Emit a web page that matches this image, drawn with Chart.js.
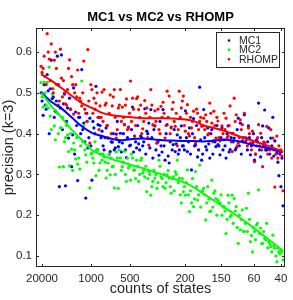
<!DOCTYPE html>
<html><head><meta charset="utf-8">
<script src="https://cdn.jsdelivr.net/npm/chart.js@4/dist/chart.umd.min.js"></script>
<style>html,body{margin:0;padding:0;background:#fff}canvas{display:block}</style>
</head><body>
<canvas id="c" width="293" height="300"></canvas>
<script>
// state rank positions (sorted by decreasing count of states)
const stateIdx = Array.from({length:120},(_, k)=>k+1);
const stateIdxB = Array.from({length:119},(_, k)=>k+1.5);
const mc1 = [
0.50,0.445,0.47,0.545,0.40,0.58,0.49,0.455,0.59,0.27,
0.593,0.473,0.272,0.463,0.487,0.319,0.512,0.453,0.285,0.44,
0.557,0.426,0.242,0.365,0.438,0.286,0.414,0.516,0.422,0.42,
0.406,0.36,0.414,0.389,0.356,0.379,0.36,0.399,0.368,0.401,
0.377,0.422,0.341,0.416,0.372,0.465,0.394,0.365,0.375,0.394,
0.37,0.461,0.406,0.426,0.459,0.34,0.419,0.377,0.347,0.37,
0.459,0.335,0.422,0.328,0.416,0.373,0.356,0.397,0.36,0.419,
0.37,0.456,0.356,0.414,0.311,0.437,0.372,0.343,0.514,0.335,
0.459,0.368,0.414,0.34,0.41,0.382,0.368,0.373,0.348,0.414,
0.385,0.34,0.419,0.361,0.401,0.389,0.365,0.438,0.426,0.382,
0.446,0.389,0.419,0.348,0.377,0.335,0.385,0.475,0.343,0.419,
0.458,0.36,0.414,0.389,0.44,0.382,0.352,0.297,0.27,0.223];
const mc1B = [
0.48,0.52,0.46,0.505,0.51,0.486,0.44,0.48,0.52,0.463,
0.41,0.497,0.43,0.389,0.46,0.397,0.35,0.42,0.44,0.40,
0.41,0.38,0.45,0.39,0.37,0.43,0.40,0.36,0.44,0.39,
0.37,0.39,0.42,0.35,0.38,0.40,0.365,0.43,0.38,0.355,
0.40,0.36,0.39,0.37,0.41,0.355,0.38,0.42,0.36,0.39,
0.38,0.35,0.40,0.365,0.39,0.41,0.36,0.38,0.43,0.355,
0.37,0.40,0.345,0.38,0.36,0.41,0.375,0.35,0.39,0.37,
0.36,0.39,0.38,0.35,0.40,0.37,0.42,0.36,0.385,0.35,
0.39,0.36,0.375,0.40,0.35,0.38,0.42,0.37,0.39,0.36,
0.37,0.40,0.355,0.39,0.38,0.36,0.41,0.37,0.35,0.39,
0.38,0.36,0.39,0.37,0.40,0.35,0.38,0.36,0.39,0.37,
0.36,0.38,0.35,0.37,0.345,0.36,0.33,0.35,0.34];
const mc2 = [
0.525,0.465,0.50,0.526,0.563,0.41,0.51,0.385,0.45,0.318,
0.414,0.319,0.39,0.397,0.321,0.362,0.377,0.338,0.325,0.313,
0.529,0.42,0.348,0.43,0.267,0.352,0.328,0.297,0.36,0.328,
0.335,0.343,0.291,0.328,0.299,0.319,0.267,0.355,0.266,0.34,
0.319,0.357,0.283,0.316,0.286,0.34,0.311,0.335,0.283,0.335,
0.303,0.294,0.258,0.307,0.249,0.283,0.291,0.266,0.335,0.294,
0.27,0.266,0.299,0.291,0.254,0.294,0.307,0.335,0.291,0.23,
0.258,0.249,0.311,0.209,0.23,0.221,0.307,0.237,0.323,0.258,
0.266,0.188,0.27,0.209,0.286,0.254,0.241,0.237,0.23,0.2,
0.221,0.155,0.249,0.196,0.249,0.241,0.221,0.131,0.164,0.213,
0.16,0.217,0.254,0.135,0.11,0.16,0.176,0.262,0.168,0.131,
0.143,0.18,0.135,0.123,0.151,0.119,0.086,0.11,0.115,0.09];
const mc2B = [
0.49,0.526,0.47,0.463,0.443,0.497,0.419,0.52,0.40,0.414,
0.44,0.38,0.42,0.356,0.40,0.31,0.36,0.39,0.34,0.37,
0.38,0.36,0.33,0.37,0.35,0.34,0.38,0.36,0.31,0.35,
0.35,0.33,0.31,0.35,0.34,0.32,0.30,0.34,0.36,0.31,
0.33,0.30,0.34,0.32,0.35,0.31,0.29,0.32,0.30,0.34,
0.31,0.32,0.29,0.30,0.27,0.31,0.30,0.28,0.32,0.29,
0.30,0.28,0.31,0.27,0.29,0.26,0.30,0.28,0.25,0.29,
0.27,0.28,0.25,0.26,0.29,0.24,0.27,0.25,0.22,0.26,
0.25,0.23,0.24,0.21,0.22,0.26,0.20,0.23,0.25,0.22,
0.21,0.19,0.23,0.20,0.18,0.21,0.17,0.20,0.19,0.16,
0.18,0.16,0.19,0.15,0.17,0.14,0.18,0.155,0.13,0.16,
0.14,0.12,0.13,0.11,0.125,0.10,0.12,0.105,0.11];
const rhomp = [
0.565,0.56,0.54,0.645,0.583,0.62,0.50,0.60,0.52,0.48,
0.536,0.53,0.473,0.508,0.581,0.54,0.448,0.52,0.556,0.487,
0.468,0.578,0.45,0.606,0.377,0.508,0.487,0.475,0.44,0.468,
0.502,0.508,0.475,0.389,0.495,0.468,0.508,0.389,0.463,0.508,
0.465,0.422,0.485,0.414,0.529,0.487,0.394,0.486,0.459,0.47,
0.412,0.481,0.463,0.372,0.508,0.422,0.456,0.377,0.41,0.467,
0.477,0.389,0.504,0.492,0.414,0.477,0.418,0.37,0.504,0.463,
0.492,0.406,0.471,0.394,0.414,0.455,0.377,0.45,0.43,0.418,
0.438,0.446,0.397,0.475,0.426,0.455,0.389,0.431,0.382,0.419,
0.45,0.438,0.394,0.468,0.356,0.487,0.446,0.377,0.434,0.422,
0.45,0.385,0.414,0.377,0.406,0.331,0.37,0.422,0.401,0.319,
0.377,0.418,0.365,0.41,0.389,0.269,0.394,0.37,0.36,0.26];
const rhompB = [
0.55,0.59,0.52,0.60,0.53,0.51,0.58,0.56,0.47,0.607,
0.49,0.50,0.47,0.56,0.46,0.52,0.50,0.49,0.45,0.48,
0.50,0.46,0.43,0.48,0.52,0.45,0.46,0.50,0.41,0.44,
0.43,0.47,0.42,0.45,0.40,0.49,0.44,0.41,0.47,0.43,
0.44,0.47,0.41,0.45,0.43,0.46,0.42,0.49,0.44,0.40,
0.43,0.45,0.39,0.44,0.47,0.42,0.43,0.46,0.40,0.44,
0.45,0.42,0.44,0.40,0.46,0.43,0.45,0.41,0.44,0.48,
0.42,0.45,0.40,0.44,0.43,0.39,0.46,0.41,0.44,0.42,
0.41,0.43,0.40,0.45,0.38,0.42,0.44,0.39,0.41,0.40,
0.41,0.39,0.42,0.38,0.40,0.43,0.37,0.39,0.41,0.38,
0.39,0.37,0.40,0.36,0.38,0.35,0.39,0.37,0.36,0.38,
0.37,0.35,0.36,0.34,0.36,0.35,0.34,0.355,0.345];
// smoothed fits
const fitIdx = [1,6,11,16,21,26,31,36,41,46,51,56,61,66,71,76,81,86,91,96,101,106,111,116,120];
const fitMc1 = [0.502,0.478,0.462,0.44,0.418,0.402,0.394,0.387,0.384,0.387,0.388,0.386,0.384,0.383,0.382,0.382,0.381,0.383,0.385,0.383,0.378,0.371,0.366,0.36,0.354];
const fitMc2 = [0.50,0.468,0.44,0.41,0.385,0.36,0.347,0.337,0.33,0.322,0.315,0.307,0.299,0.29,0.281,0.269,0.252,0.236,0.22,0.203,0.186,0.167,0.148,0.129,0.112];
const fitRhomp = [0.546,0.53,0.512,0.493,0.475,0.463,0.451,0.445,0.442,0.44,0.438,0.438,0.438,0.437,0.435,0.431,0.42,0.414,0.407,0.398,0.389,0.381,0.373,0.364,0.356];
// axes
const xTickPos = [1.45,25.6,44.7,71.8,89.5,105.7,119.0];
const xTickLabels = ['20000','1000','500','200','150','60','40'];
const yTicks = [0.1,0.2,0.3,0.4,0.5,0.6];
const seriesNames = ['MC1','MC2','RHOMP'];
const colors = ['#0000ff','#00ff00','#ff0000'];

const pts = (xs, ys) => xs.map((x,i)=>({x, y: ys[i]}));
const AX = '#262626';

const decor = {
  id:'decor',
  afterDraw(chart){
    const {ctx, chartArea:a, scales:{x, y}} = chart;
    ctx.save();
    ctx.strokeStyle = AX; ctx.lineWidth = 1;
    ctx.strokeRect(a.left+0.5, a.top+0.5, a.right-a.left-1, a.bottom-a.top-1);
    ctx.beginPath();
    xTickPos.forEach(v=>{const p=Math.round(x.getPixelForValue(v))+0.5;
      ctx.moveTo(p,a.bottom); ctx.lineTo(p,a.bottom-3);
      ctx.moveTo(p,a.top); ctx.lineTo(p,a.top+3);});
    yTicks.forEach(v=>{const p=Math.round(y.getPixelForValue(v))+0.5;
      ctx.moveTo(a.left,p); ctx.lineTo(a.left+3,p);
      ctx.moveTo(a.right,p); ctx.lineTo(a.right-3,p);});
    ctx.stroke();
    ctx.fillStyle = '#000';
    ctx.textAlign='center'; ctx.textBaseline='middle';
    ctx.font = 'bold 13px "Liberation Sans", Arial, sans-serif';
    ctx.fillText('MC1 vs MC2 vs RHOMP', (a.left+a.right)/2, 17);
    ctx.fillStyle = AX;
    ctx.font = '14.5px "Liberation Sans", Arial, sans-serif';
    ctx.fillText('counts of states', (a.left+a.right)/2, 289);
    ctx.save();
    ctx.translate(9, (a.top+a.bottom)/2);
    ctx.rotate(-Math.PI/2);
    ctx.fillText('precision (k=3)', 0, 0);
    ctx.restore();
    ctx.fillStyle='#fff';
    ctx.fillRect(216.5,32.5,63,35);
    ctx.strokeStyle = AX;
    ctx.strokeRect(216.5,32.5,63,35);
    ctx.font = '10.5px "Liberation Sans", Arial, sans-serif';
    ctx.textAlign='left';
    seriesNames.forEach((n,i)=>{
      const yy = 40.5 + i*9.4;
      ctx.fillStyle = colors[i];
      ctx.beginPath(); ctx.arc(229, yy, 1.3, 0, Math.PI*2); ctx.fill();
      ctx.fillStyle = AX;
      ctx.fillText(n, 239, yy+0.5);
    });
    ctx.restore();
  }
};

const lineDs = (data, c) => ({type:'line', data, borderColor:c, borderWidth:2, pointRadius:0, fill:false, tension:0.4, cubicInterpolationMode:'monotone'});
const scatDs = (data, c) => ({type:'scatter', data, backgroundColor:c, borderWidth:0, pointRadius:1.6, pointHoverRadius:1.6});

new Chart(document.getElementById('c'), {
  type:'scatter',
  data:{ datasets:[
    lineDs(pts(fitIdx, fitRhomp), colors[2]),
    lineDs(pts(fitIdx, fitMc2), colors[1]),
    lineDs(pts(fitIdx, fitMc1), colors[0]),
    scatDs(pts(stateIdx, rhomp), colors[2]),
    scatDs(pts(stateIdxB, rhompB), colors[2]),
    scatDs(pts(stateIdx, mc2), colors[1]),
    scatDs(pts(stateIdxB, mc2B), colors[1]),
    scatDs(pts(stateIdx, mc1), colors[0]),
    scatDs(pts(stateIdxB, mc1B), colors[0]),
  ]},
  options:{
    responsive:false, animation:false, devicePixelRatio:1,
    layout:{padding:{top:28,right:8,left:0,bottom:0}},
    plugins:{legend:{display:false}, tooltip:{enabled:false}},
    scales:{
      x:{type:'linear', min:-1.5, max:121,
        grid:{display:false, drawTicks:false}, border:{display:false},
        afterBuildTicks:s=>{s.ticks = xTickPos.map(v=>({value:v}));},
        afterFit:s=>{s.height=33;},
        ticks:{padding:5, color:AX, maxRotation:0, autoSkip:false,
          font:{family:'"Liberation Sans", Arial, sans-serif', size:11.5},
          callback:(v,i)=>xTickLabels[i]}},
      y:{type:'linear', min:0.073, max:0.659,
        grid:{display:false, drawTicks:false}, border:{display:false},
        afterBuildTicks:s=>{s.ticks = yTicks.map(v=>({value:v}));},
        afterFit:s=>{s.width=36;},
        ticks:{padding:4, color:AX,
          font:{family:'"Liberation Sans", Arial, sans-serif', size:11.5},
          callback:v=>v.toFixed(1)}}
    }
  },
  plugins:[decor]
});
</script>
</body></html>
